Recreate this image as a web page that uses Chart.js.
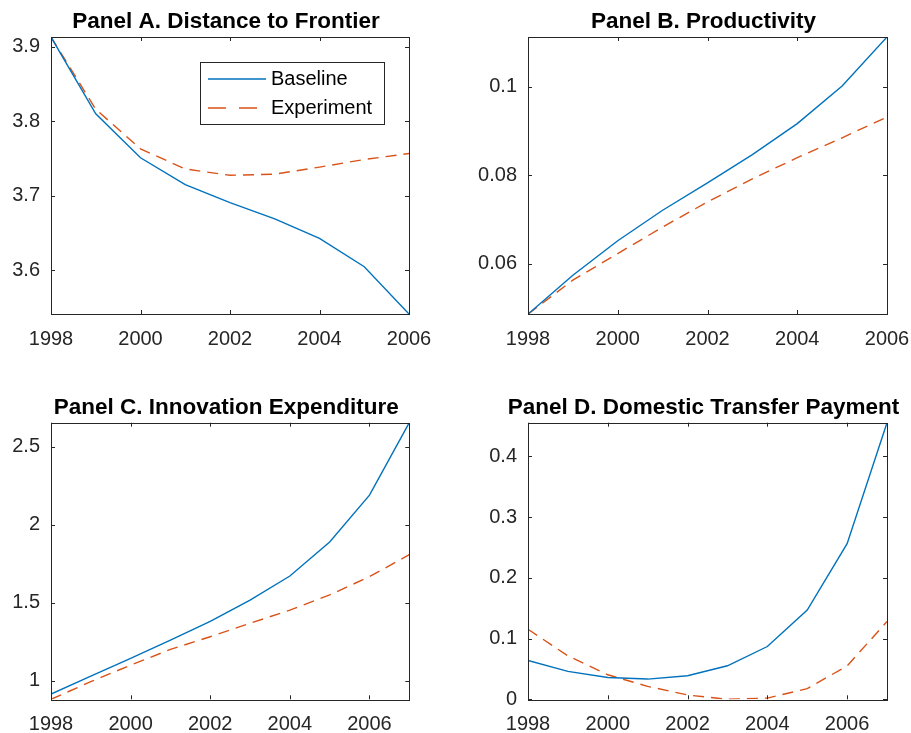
<!DOCTYPE html>
<html>
<head>
<meta charset="utf-8">
<script src="https://cdn.jsdelivr.net/npm/chart.js@4.4.1/dist/chart.umd.min.js"></script>
<style>
  body { margin: 0; background: #fff; width: 911px; height: 733px; overflow: hidden; position: relative; }
  .panel { position: absolute; }
</style>
</head>
<body>
<div class="panel" style="left:0;top:0;width:455px;height:380px"><canvas id="panelA"></canvas></div>
<div class="panel" style="left:455px;top:0;width:456px;height:380px"><canvas id="panelB"></canvas></div>
<div class="panel" style="left:0;top:380px;width:455px;height:353px"><canvas id="panelC"></canvas></div>
<div class="panel" style="left:455px;top:380px;width:456px;height:353px"><canvas id="panelD"></canvas></div>
<script>
// years
var yearsAB = [1998, 1999, 2000, 2001, 2002, 2003, 2004, 2005, 2006];
var yearsCD = [1998, 1999, 2000, 2001, 2002, 2003, 2004, 2005, 2006, 2007];
var xTicks = [1998, 2000, 2002, 2004, 2006];

// Panel A. Distance to Frontier
var distBaseline   = [3.9129, 3.810, 3.751, 3.715, 3.691, 3.669, 3.643, 3.605, 3.5416];
var distExperiment = [3.9129, 3.816, 3.763, 3.736, 3.7275, 3.729, 3.7385, 3.7487, 3.7567];
var distTicks = [3.6, 3.7, 3.8, 3.9];

// Panel B. Productivity
var prodBaseline   = [0.0486, 0.0574, 0.0652, 0.0721, 0.0783, 0.0847, 0.0917, 0.1002, 0.1113];
var prodExperiment = [0.0486, 0.0563, 0.0623, 0.0683, 0.0740, 0.0792, 0.0840, 0.0885, 0.0932];
var prodTicks = [0.06, 0.08, 0.1];

// Panel C. Innovation Expenditure
var innoBaseline   = [0.915, 1.03, 1.144, 1.261, 1.381, 1.517, 1.671, 1.889, 2.19, 2.654];
var innoExperiment = [0.881, 0.994, 1.10, 1.201, 1.282, 1.368, 1.453, 1.55, 1.667, 1.808];
var innoTicks = [1, 1.5, 2, 2.5];

// Panel D. Domestic Transfer Payment
var tranBaseline   = [0.064, 0.0459, 0.036, 0.0333, 0.0388, 0.0552, 0.0869, 0.147, 0.2563, 0.4554];
var tranExperiment = [0.1153, 0.0716, 0.0404, 0.0213, 0.0071, 0.0, 0.002, 0.0175, 0.055, 0.128];
var tranTicks = [0, 0.1, 0.2, 0.3, 0.4];

var seriesNames = ['Baseline', 'Experiment'];

var FONT = 'Liberation Sans, Arial, Helvetica, sans-serif';
var AXIS = '#262626';

// box all round with inward ticks, like matlab
var boxPlugin = {
  id: 'matlabBox',
  afterDatasetsDraw: function(chart) {
    var a = chart.chartArea, ctx = chart.ctx;
    var xs = chart.scales.x, ys = chart.scales.y;
    var tl = 4;
    ctx.save();
    ctx.strokeStyle = AXIS;
    ctx.lineWidth = 1;
    ctx.strokeRect(Math.round(a.left) + 0.5, Math.round(a.top) + 0.5,
                   Math.round(a.right - a.left), Math.round(a.bottom - a.top));
    ctx.beginPath();
    xs.ticks.forEach(function(t) {
      var px = Math.round(xs.getPixelForValue(t.value)) + 0.5;
      ctx.moveTo(px, a.bottom); ctx.lineTo(px, a.bottom - tl);
      ctx.moveTo(px, a.top); ctx.lineTo(px, a.top + tl);
    });
    ys.ticks.forEach(function(t) {
      var py = Math.round(ys.getPixelForValue(t.value)) + 0.5;
      ctx.moveTo(a.left, py); ctx.lineTo(a.left + tl, py);
      ctx.moveTo(a.right, py); ctx.lineTo(a.right - tl, py);
    });
    ctx.stroke();
    ctx.restore();
  }
};

// panel title, centred over the axes (may run wider than them, like matlab)
var axesTitle = {
  id: 'axesTitle',
  afterDraw: function(chart, args, opts) {
    var a = chart.chartArea, ctx = chart.ctx;
    ctx.save();
    ctx.fillStyle = '#000';
    ctx.font = 'bold 22.5px ' + FONT;
    ctx.textAlign = 'center';
    ctx.textBaseline = 'alphabetic';
    ctx.fillText(opts.text, (a.left + a.right) / 2 - 4, a.top - 8.7);
    ctx.restore();
  }
};

// framed legend inside the plot (panel A only)
var boxLegend = {
  id: 'boxLegend',
  afterDraw: function(chart, args, opts) {
    if (!opts || !opts.show) return;
    var ctx = chart.ctx;
    ctx.save();
    ctx.fillStyle = '#fff';
    ctx.fillRect(opts.x, opts.y, opts.w, opts.h);
    ctx.strokeStyle = AXIS;
    ctx.lineWidth = 1;
    ctx.strokeRect(opts.x + 0.5, opts.y + 0.5, opts.w, opts.h);
    chart.data.datasets.forEach(function(ds, i) {
      var cy = opts.y + opts.rowTop + i * opts.rowGap;
      ctx.strokeStyle = ds.borderColor;
      ctx.lineWidth = ds.borderWidth;
      ctx.setLineDash(i === 1 ? [18, 13] : []);
      ctx.beginPath();
      ctx.moveTo(opts.x + 8, cy);
      ctx.lineTo(opts.x + 66, cy);
      ctx.stroke();
      ctx.setLineDash([]);
      ctx.fillStyle = '#000';
      ctx.font = '20px ' + FONT;
      ctx.textBaseline = 'middle';
      ctx.textAlign = 'left';
      ctx.fillText(ds.label, opts.x + 71, cy);
    });
    ctx.restore();
  }
};

function makePanel(id, title, years, base, exper, xMax, yMin, yMax, yTicks, geo, legend) {
  return new Chart(document.getElementById(id), {
    type: 'line',
    data: {
      datasets: [
        {
          label: seriesNames[0],
          data: years.map(function(y, i) { return { x: y, y: base[i] }; }),
          borderColor: '#0072BD',
          borderWidth: 1.4,
          pointRadius: 0,
          tension: 0,
          fill: false
        },
        {
          label: seriesNames[1],
          data: years.map(function(y, i) { return { x: y, y: exper[i] }; }),
          borderColor: '#D95319',
          borderWidth: 1.4,
          borderDash: [11, 7],
          pointRadius: 0,
          tension: 0,
          fill: false
        }
      ]
    },
    options: {
      responsive: true,
      maintainAspectRatio: false,
      animation: false,
      layout: { padding: { left: 0, top: geo.padTop, bottom: 0, right: geo.padRight } },
      plugins: {
        legend: { display: false },
        tooltip: { enabled: false },
        title: { display: false },
        axesTitle: { text: title },
        boxLegend: legend || { show: false }
      },
      scales: {
        x: {
          type: 'linear',
          min: 1998,
          max: xMax,
          afterBuildTicks: function(s) { s.ticks = xTicks.map(function(v) { return { value: v }; }); },
          afterFit: function(s) { s.height = geo.xHeight; s.paddingLeft = 0; s.paddingRight = 0; },
          grid: { display: false, drawTicks: false },
          border: { display: false },
          ticks: {
            padding: 13,
            color: AXIS,
            font: { family: FONT, size: 20 },
            maxRotation: 0,
            autoSkip: false,
            callback: function(v) { return String(v); }
          }
        },
        y: {
          type: 'linear',
          min: yMin,
          max: yMax,
          afterBuildTicks: function(s) { s.ticks = yTicks.map(function(v) { return { value: v }; }); },
          afterFit: function(s) { s.width = geo.yWidth; s.paddingTop = 0; s.paddingBottom = 0; },
          grid: { display: false, drawTicks: false },
          border: { display: false },
          ticks: {
            padding: 11,
            color: AXIS,
            font: { family: FONT, size: 20 },
            autoSkip: false,
            callback: function(v) { return String(v); }
          }
        }
      }
    },
    plugins: [boxPlugin, axesTitle, boxLegend]
  });
}

makePanel('panelA', 'Panel A. Distance to Frontier', yearsAB, distBaseline, distExperiment,
  2006, 3.5416, 3.9129, distTicks,
  { yWidth: 51, xHeight: 66, padRight: 46, padTop: 37 },
  { show: true, x: 200, y: 62, w: 184, h: 62, rowTop: 17, rowGap: 29 });

makePanel('panelB', 'Panel B. Productivity', yearsAB, prodBaseline, prodExperiment,
  2006, 0.04863, 0.1113, prodTicks,
  { yWidth: 73, xHeight: 66, padRight: 24, padTop: 37 });

makePanel('panelC', 'Panel C. Innovation Expenditure', yearsCD, innoBaseline, innoExperiment,
  2007, 0.881, 2.654, innoTicks,
  { yWidth: 51, xHeight: 33.7, padRight: 45.7, padTop: 42.7 });

makePanel('panelD', 'Panel D. Domestic Transfer Payment', yearsCD, tranBaseline, tranExperiment,
  2007, 0, 0.4554, tranTicks,
  { yWidth: 73, xHeight: 33.7, padRight: 24, padTop: 42.7 });
</script>
</body>
</html>
